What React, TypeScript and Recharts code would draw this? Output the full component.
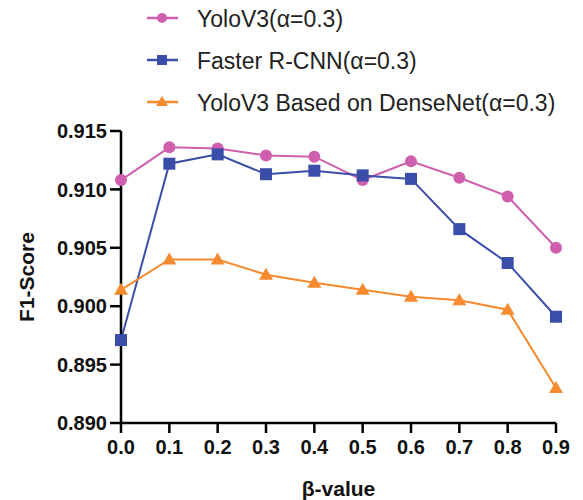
import React from "react";
import { LineChart, Line, XAxis, YAxis, Legend, Label } from "recharts";

const betas = [0, 0.1, 0.2, 0.3, 0.4, 0.5, 0.6, 0.7, 0.8, 0.9];
const yolo = [0.9108, 0.9136, 0.9135, 0.9129, 0.9128, 0.9108, 0.9124, 0.911, 0.9094, 0.905];
const faster = [0.8971, 0.9122, 0.913, 0.9113, 0.9116, 0.9112, 0.9109, 0.9066, 0.9037, 0.8991];
const dense = [0.9014, 0.904, 0.904, 0.9027, 0.902, 0.9014, 0.9008, 0.9005, 0.8997, 0.893];
const yTicks = [0.89, 0.895, 0.9, 0.905, 0.91, 0.915];
const seriesNames = ["YoloV3(α=0.3)", "Faster R-CNN(α=0.3)", "YoloV3 Based on DenseNet(α=0.3)"];

const PINK = "#cf5fae";
const BLUE = "#3a4ea9";
const ORANGE = "#f58a2e";

const data = betas.map((b, i) => ({ beta: b, yolo: yolo[i], faster: faster[i], dense: dense[i] }));

const FONT = "Arial, 'Liberation Sans', sans-serif";
const LEGEND_H = 120;

function Marker({ kind, cx, cy, color }: any) {
  if (cx == null || cy == null) return null;
  if (kind === "circle") return <circle cx={cx} cy={cy} r={6} fill={color} stroke="none" />;
  if (kind === "square") return <rect x={cx - 6} y={cy - 6} width={12} height={12} fill={color} />;
  return (
    <polygon
      points={`${cx},${cy - 7} ${cx + 7},${cy + 5} ${cx - 7},${cy + 5}`}
      fill={color}
    />
  );
}

const legendItems = [
  { name: seriesNames[0], color: PINK, kind: "circle" },
  { name: seriesNames[1], color: BLUE, kind: "square" },
  { name: seriesNames[2], color: ORANGE, kind: "triangle" },
];

function LegendContent() {
  return (
    <svg width={440} height={LEGEND_H}>
      {legendItems.map((it, i) => {
        const y = 18 + i * 42;
        return (
          <g key={it.name}>
            <line x1={7} x2={38} y1={y} y2={y} stroke={it.color} strokeWidth={2.5} />
            {it.kind === "circle" && <circle cx={22} cy={y} r={5} fill={it.color} />}
            {it.kind === "square" && <rect x={17} y={y - 5} width={10} height={10} fill={it.color} />}
            {it.kind === "triangle" && (
              <polygon points={`22,${y - 6} 28,${y + 4} 16,${y + 4}`} fill={it.color} />
            )}
            <text
              x={57}
              y={y + 1}
              dominantBaseline="central"
              fontFamily={FONT}
              fontSize={23}
              fill="#222"
            >
              {it.name}
            </text>
          </g>
        );
      })}
    </svg>
  );
}

export default function App() {
  return (
    <div style={{ position: "absolute", left: 0, top: 0, width: 583, height: 500, background: "#fff" }}>
      <LineChart width={583} height={500} data={data} margin={{ top: 131 - LEGEND_H, right: 27, bottom: 37, left: 0 }}>
        <XAxis
          dataKey="beta"
          type="number"
          domain={[0, 0.9]}
          ticks={betas}
          tickFormatter={(v: number) => v.toFixed(1)}
          height={40}
          tickSize={10}
          tickMargin={7}
          axisLine={{ stroke: "#000", strokeWidth: 2.5 }}
          tickLine={{ stroke: "#000", strokeWidth: 2.5 }}
          tick={{ fill: "#111", fontSize: 20, fontWeight: "bold", fontFamily: FONT }}
          interval={0}
        >
          <Label
            content={(props: any) => {
              const vb = props.viewBox || {};
              return (
                <text
                  x={vb.x + vb.width / 2}
                  y={vb.y + 65}
                  textAnchor="middle"
                  dominantBaseline="central"
                  fontFamily={FONT}
                  fontSize={21}
                  fontWeight="bold"
                  fill="#111"
                >
                  β-value
                </text>
              );
            }}
          />
        </XAxis>
        <YAxis
          type="number"
          domain={[0.89, 0.915]}
          ticks={yTicks}
          tickFormatter={(v: number) => v.toFixed(3)}
          width={121}
          tickSize={11}
          tickMargin={3}
          axisLine={{ stroke: "#000", strokeWidth: 2.5 }}
          tickLine={{ stroke: "#000", strokeWidth: 2.5 }}
          tick={{ fill: "#111", fontSize: 20, fontWeight: "bold", fontFamily: FONT }}
          interval={0}
        >
          <Label
            content={(props: any) => {
              const vb = props.viewBox || {};
              const cx = vb.x + 26;
              const cy = vb.y + vb.height / 2;
              return (
                <text
                  x={cx}
                  y={cy}
                  transform={`rotate(-90 ${cx} ${cy})`}
                  textAnchor="middle"
                  dominantBaseline="central"
                  fontFamily={FONT}
                  fontSize={21}
                  fontWeight="bold"
                  fill="#111"
                >
                  F1-Score
                </text>
              );
            }}
          />
        </YAxis>
        <Legend
          layout="vertical"
          align="center"
          verticalAlign="top"
          content={<LegendContent />}
          wrapperStyle={{ position: "absolute", left: 140, top: 0, width: 440, height: LEGEND_H }}
        />
        <Line
          type="linear"
          dataKey="yolo"
          name={seriesNames[0]}
          stroke={PINK}
          strokeWidth={2}
          isAnimationActive={false}
          dot={(p: any) => <Marker key={`y${p.index}`} kind="circle" cx={p.cx} cy={p.cy} color={PINK} />}
        />
        <Line
          type="linear"
          dataKey="faster"
          name={seriesNames[1]}
          stroke={BLUE}
          strokeWidth={2}
          isAnimationActive={false}
          dot={(p: any) => <Marker key={`f${p.index}`} kind="square" cx={p.cx} cy={p.cy} color={BLUE} />}
        />
        <Line
          type="linear"
          dataKey="dense"
          name={seriesNames[2]}
          stroke={ORANGE}
          strokeWidth={2}
          isAnimationActive={false}
          dot={(p: any) => <Marker key={`d${p.index}`} kind="triangle" cx={p.cx} cy={p.cy} color={ORANGE} />}
        />
      </LineChart>
    </div>
  );
}
